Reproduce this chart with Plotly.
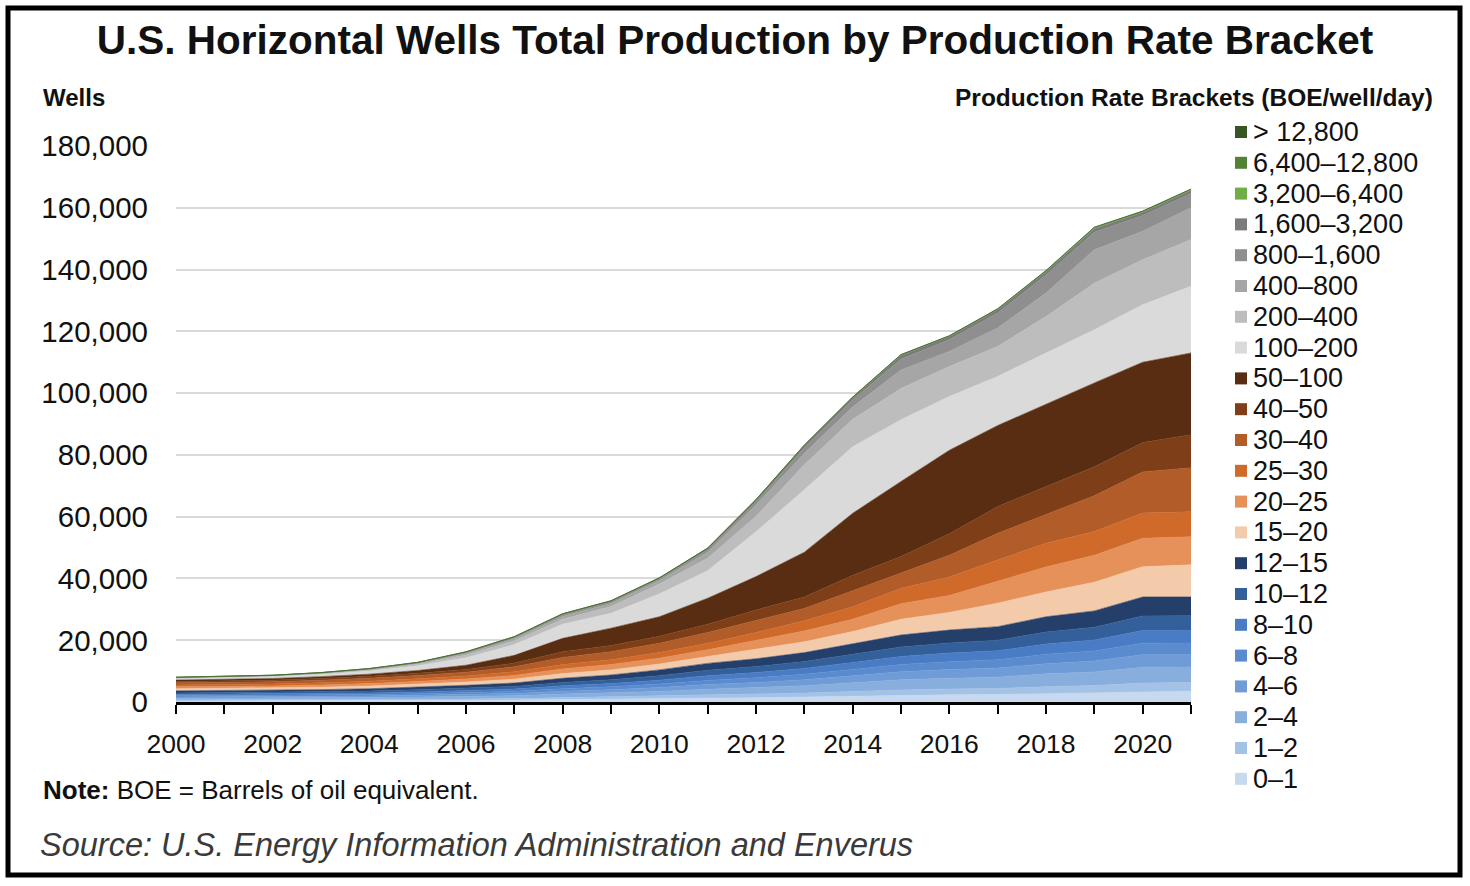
import plotly.graph_objects as go

# U.S. horizontal wells by production rate bracket (BOE/well/day)
years = list(range(2000, 2022))

b0_1 = [360, 370, 380, 400, 430, 480, 540, 620, 770, 880, 1040, 1250, 1400, 1600, 1880, 2170, 2330, 2440, 2760, 2950, 3400, 3500]
b1_2 = [290, 300, 300, 320, 340, 380, 430, 490, 620, 700, 830, 1000, 1120, 1280, 1500, 1740, 1860, 1950, 2210, 2360, 2720, 2800]
b2_4 = [540, 560, 570, 600, 650, 720, 810, 920, 1160, 1310, 1560, 1880, 2100, 2400, 2820, 3260, 3500, 3660, 4140, 4430, 5100, 5000]
b4_6 = [430, 440, 460, 480, 520, 580, 650, 740, 920, 1050, 1250, 1500, 1680, 1920, 2260, 2600, 2800, 2930, 3310, 3540, 4080, 4000]
b6_8 = [400, 410, 420, 440, 470, 530, 590, 680, 850, 960, 1140, 1370, 1540, 1760, 2070, 2390, 2560, 2680, 3040, 3250, 3740, 3800]
b8_10 = [430, 440, 460, 480, 520, 580, 650, 740, 920, 1050, 1250, 1500, 1680, 1920, 2260, 2600, 2800, 2930, 3310, 3540, 4080, 4000]
b10_12 = [500, 520, 530, 560, 600, 670, 760, 860, 1080, 1230, 1460, 1750, 1960, 2240, 2630, 3040, 3260, 3420, 3860, 4130, 4760, 4800]
b12_15 = [650, 660, 680, 720, 770, 860, 970, 1100, 1380, 1570, 1870, 2250, 2520, 2880, 3380, 3900, 4190, 4390, 4970, 5300, 6120, 6100]

b15_20 = [700, 700, 700, 800, 850, 950, 1050, 1250, 1500, 1650, 1900, 2200, 3000, 3500, 4000, 5100, 5700, 7600, 8000, 9300, 9800, 10400]
b20_25 = [600, 600, 650, 700, 800, 900, 1000, 1200, 1500, 1700, 1900, 2200, 2900, 3500, 4000, 5000, 5500, 7000, 8100, 8700, 9200, 9100]
b25_30 = [600, 600, 650, 700, 750, 850, 950, 1200, 1400, 1600, 1800, 2100, 2600, 3300, 4000, 5000, 6000, 7000, 7700, 7700, 8200, 8100]
b30_40 = [700, 750, 750, 850, 950, 1050, 1250, 1600, 2300, 2600, 3000, 3500, 4000, 4000, 5200, 5000, 7000, 8600, 9200, 11600, 13300, 14200]
b40_50 = [400, 450, 500, 550, 650, 750, 900, 1200, 1900, 2000, 2300, 2700, 3300, 3700, 5000, 5300, 7000, 8700, 9200, 9400, 9500, 10700]
b50_100 = [500, 500, 550, 600, 700, 900, 1350, 2500, 4300, 5600, 6300, 8400, 10800, 14500, 20100, 24300, 27000, 26200, 26700, 27100, 26000, 26500]

b100_200 = [500, 600, 650, 750, 1000, 1500, 2400, 3500, 4600, 4800, 7400, 8900, 14500, 20200, 21500, 20000, 17400, 15900, 16500, 17200, 18600, 21600]
b200_400 = [200, 200, 200, 250, 350, 500, 900, 1200, 1600, 2200, 3200, 4000, 5000, 8100, 8900, 10100, 9700, 9700, 11800, 15100, 14600, 15100]
b400_800 = [100, 100, 100, 150, 200, 300, 500, 700, 900, 1000, 1100, 2000, 3700, 3700, 4000, 6000, 4900, 6000, 7600, 10800, 9200, 10300]
b800_1600 = [50, 50, 50, 100, 150, 200, 300, 400, 500, 500, 500, 800, 1000, 1800, 2300, 3500, 3800, 4800, 5800, 5700, 5100, 4600]
b1600_3200 = [50, 50, 50, 50, 100, 100, 200, 200, 300, 300, 300, 400, 600, 700, 700, 1200, 1000, 1100, 1100, 1100, 1000, 1000]

b3200_6400 = [20, 20, 20, 20, 30, 30, 40, 50, 60, 60, 70, 90, 110, 130, 170, 200, 200, 220, 280, 380, 300, 330]
b6400_12800 = [5, 5, 5, 5, 5, 10, 10, 10, 15, 15, 20, 25, 30, 40, 50, 60, 60, 70, 90, 120, 100, 110]
b12800_up = [2, 2, 2, 2, 2, 3, 3, 3, 5, 5, 5, 8, 10, 12, 15, 20, 20, 20, 25, 35, 30, 35]

brackets = ["0–1", "1–2", "2–4", "4–6", "6–8", "8–10", "10–12", "12–15",
            "15–20", "20–25", "25–30", "30–40", "40–50", "50–100",
            "100–200", "200–400", "400–800", "800–1,600", "1,600–3,200",
            "3,200–6,400", "6,400–12,800", "> 12,800"]
layers = [b0_1, b1_2, b2_4, b4_6, b6_8, b8_10, b10_12, b12_15,
          b15_20, b20_25, b25_30, b30_40, b40_50, b50_100,
          b100_200, b200_400, b400_800, b800_1600, b1600_3200,
          b3200_6400, b6400_12800, b12800_up]
colors = ["#c6d9ee", "#a4c2e6", "#88aedd", "#6f9cd6", "#5b8bcf", "#4a7cc5", "#33609b", "#24406a",
          "#f3cbab", "#e59159", "#d06a2b", "#b15c29", "#7e3f18", "#582d12",
          "#dadada", "#bdbdbd", "#a6a6a6", "#8f8f8f", "#7b7b7b",
          "#70ad47", "#548235", "#375623"]

FONT = "Liberation Sans, Arial, sans-serif"
W, H = 1470, 886
L, R, T, B = 176, 279, 146, 184
PW, PH = W - L - R, H - T - B


def px_x(px):
    return (px - L) / PW


def px_y(py):
    return (H - B - py) / PH


fig = go.Figure()
for name, vals, col in zip(brackets, layers, colors):
    fig.add_trace(go.Scatter(
        x=years, y=vals, name=name, mode="lines", stackgroup="wells",
        line=dict(width=0.6, color=col), fillcolor=col, showlegend=False,
    ))

annotations = [
    dict(text="<b>Wells</b>", x=px_x(41), y=px_y(97), xanchor="left", font=dict(size=24)),
    dict(text="<b>Production Rate Brackets (BOE/well/day)</b>", x=px_x(1435), y=px_y(97),
         xanchor="right", font=dict(size=24.5)),
    dict(text="<b>Note:</b> BOE = Barrels of oil equivalent.", x=px_x(41), y=px_y(790),
         xanchor="left", font=dict(size=26)),
    dict(text="<i>Source: U.S. Energy Information Administration and Enverus</i>", x=px_x(38),
         y=px_y(845), xanchor="left", font=dict(size=32.5, color="#3a3a3a")),
]
shapes = [
    dict(type="rect", xref="paper", yref="paper", x0=px_x(8), x1=px_x(1460), y0=px_y(875), y1=px_y(8),
         line=dict(color="black", width=5)),
]

# hand-built legend so the row spacing matches the original
for i, (name, col) in enumerate(zip(brackets[::-1], colors[::-1])):
    yc = 132 + i * 30.8
    shapes.append(dict(type="rect", xref="paper", yref="paper",
                       x0=px_x(1235), x1=px_x(1247), y0=px_y(yc + 6), y1=px_y(yc - 6),
                       fillcolor=col, line=dict(width=0)))
    annotations.append(dict(text=name, x=px_x(1251), y=px_y(yc), xanchor="left",
                            font=dict(size=27)))

for a in annotations:
    a.update(xref="paper", yref="paper", yanchor="middle", showarrow=False)

fig.update_layout(
    width=W, height=H,
    margin=dict(l=L, r=R, t=T, b=B),
    paper_bgcolor="white", plot_bgcolor="white",
    font=dict(family=FONT, color="#111111"),
    title=dict(text="<b>U.S. Horizontal Wells Total Production by Production Rate Bracket</b>",
               x=0.5, xanchor="center", y=1 - 40 / H, yanchor="middle",
               font=dict(size=40.5, color="#111111")),
    annotations=annotations,
    shapes=shapes,
)
fig.update_xaxes(
    range=[2000, 2021], tickmode="array", tickvals=years,
    ticktext=[str(y) if y % 2 == 0 else "" for y in years],
    ticks="outside", ticklen=9, tickwidth=2, tickcolor="black",
    showline=True, linewidth=2.5, linecolor="black",
    showgrid=False, zeroline=False, tickfont=dict(size=26.5), ticklabelstandoff=7,
)
fig.update_yaxes(
    range=[0, 180000], tickmode="array", tickvals=list(range(0, 180001, 20000)),
    tickformat=",d", showgrid=True, gridcolor="#d9d9d9", gridwidth=2,
    zeroline=False, showline=False, ticks="", tickfont=dict(size=29.5), ticklabelstandoff=27,
)

fig.write_html("out.html", config={"displayModeBar": False},
               post_script="document.body.style.margin='0';")
